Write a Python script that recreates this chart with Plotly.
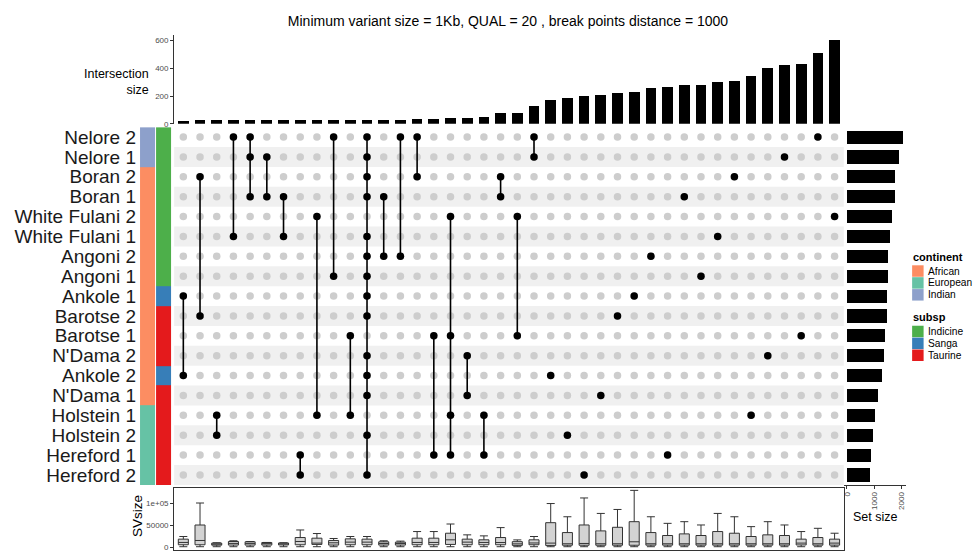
import plotly.graph_objects as go

# ---------------- data ----------------
set_names = ["Nelore 2", "Nelore 1", "Boran 2", "Boran 1", "White Fulani 2", "White Fulani 1",
             "Angoni 2", "Angoni 1", "Ankole 1", "Barotse 2", "Barotse 1", "N'Dama 2",
             "Ankole 2", "N'Dama 1", "Holstein 1", "Holstein 2", "Hereford 1", "Hereford 2"]
set_sizes = [2058, 1913, 1768, 1745, 1636, 1585, 1503, 1495, 1455, 1450, 1370, 1333,
             1260, 1127, 1006, 958, 873, 824]
set_continent = ["Indian", "Indian", "African", "African", "African", "African", "African", "African",
                 "African", "African", "African", "African", "African", "African",
                 "European", "European", "European", "European"]
set_subsp = ["Indicine", "Indicine", "Indicine", "Indicine", "Indicine", "Indicine", "Indicine", "Indicine",
             "Sanga", "Taurine", "Taurine", "Taurine", "Sanga", "Taurine",
             "Taurine", "Taurine", "Taurine", "Taurine"]

continent_levels = ["African", "European", "Indian"]
continent_colors = ["#FC8D62", "#66C2A5", "#8DA0CB"]
subsp_levels = ["Indicine", "Sanga", "Taurine"]
subsp_colors = ["#4DAF4A", "#377EB8", "#E41A1C"]

intersections = [
    ["Ankole 1", "Ankole 2"],
    ["Boran 2", "Barotse 2"],
    ["Holstein 1", "Holstein 2"],
    ["Nelore 2", "White Fulani 1"],
    ["Nelore 2", "Nelore 1", "Boran 1"],
    ["Nelore 1", "Boran 1"],
    ["Boran 1", "White Fulani 1"],
    ["Hereford 1", "Hereford 2"],
    ["White Fulani 2", "Holstein 1"],
    ["Nelore 2", "Angoni 1"],
    ["Barotse 1", "Holstein 1"],
    ["Nelore 2", "Nelore 1", "Boran 2", "Boran 1", "White Fulani 1", "Angoni 2", "Angoni 1",
     "Ankole 1", "Barotse 2", "N'Dama 2", "Ankole 2", "N'Dama 1", "Holstein 2", "Hereford 2"],
    ["Boran 1", "Angoni 2"],
    ["Nelore 2", "Angoni 2"],
    ["Nelore 2", "Boran 2"],
    ["Barotse 1", "Hereford 1"],
    ["White Fulani 2", "Barotse 1", "Holstein 1", "Hereford 1"],
    ["N'Dama 2", "N'Dama 1"],
    ["Holstein 1", "Hereford 1"],
    ["Boran 2", "Boran 1"],
    ["White Fulani 2", "Barotse 1"],
    ["Nelore 2", "Nelore 1"],
    ["Ankole 2"], ["Holstein 2"], ["Hereford 2"], ["N'Dama 1"], ["Barotse 2"], ["Ankole 1"],
    ["Angoni 2"], ["Hereford 1"], ["Boran 1"], ["Angoni 1"], ["White Fulani 1"], ["Boran 2"],
    ["Holstein 1"], ["N'Dama 2"], ["Nelore 1"], ["Barotse 1"], ["Nelore 2"], ["White Fulani 2"],
]
intersection_sizes = [24, 25, 25, 26, 26, 27, 27, 28, 28, 29, 29, 30, 30, 31, 32, 34,
                      40, 41, 47, 78, 78, 126, 171, 185, 197, 204, 225, 232, 254, 266,
                      282, 282, 304, 311, 346, 399, 422, 427, 508, 605]

sv_upper = [24700, 101000, 10500, 15000, 13400, 11200, 10400, 39600, 31500, 20200,
            24700, 24700, 15000, 14200, 36000, 36000, 53200, 28500, 26200, 45000,
            17000, 24700, 99800, 69700, 112500, 77300, 86300, 129800, 69700, 54700,
            58500, 51000, 77300, 69700, 47200, 58500, 51000, 36000, 43400, 32200]
sv_q3 = [18700, 50900, 9700, 13400, 12700, 11000, 10000, 22400, 20900, 15700,
         19400, 18700, 12700, 11900, 20900, 20900, 32200, 18700, 17200, 22400,
         13000, 17200, 56200, 33700, 51000, 37500, 45700, 58500, 33700, 27000,
         30700, 27000, 36000, 32200, 24700, 28500, 27000, 18700, 22400, 18700]
sv_median = [11200, 15700, 7000, 9000, 9000, 8500, 8000, 13400, 9700, 10400,
             11900, 11900, 8900, 8900, 11200, 11200, 17200, 11900, 11200, 11000,
             8000, 10000, 9700, 8200, 8900, 8200, 8200, 12700, 8200, 8200,
             8200, 8200, 8200, 8200, 8200, 8200, 8200, 9700, 8200, 9700]
sv_q1 = [5900, 5900, 5000, 5200, 5200, 5200, 5500, 5900, 6700, 5200,
         5900, 5900, 5200, 5200, 5900, 5900, 6700, 5900, 5900, 5900,
         4500, 5900, 4400, 4800, 4800, 4800, 4800, 4800, 5000, 5000,
         5000, 5000, 5000, 5000, 5000, 5000, 5000, 5500, 5000, 5000]
sv_lower = [1500] * 40

title_text = "Minimum variant size = 1Kb, QUAL = 20 , break points distance = 1000"

# ---------------- helpers ----------------
W, H = 973, 555
def fx(p):
    return p / W
def fy(p):
    return 1 - p / H

FONT = "Liberation Sans, Arial, sans-serif"
n_sets = len(set_names)
n_cols = len(intersections)
rows = list(range(n_sets))
cols = list(range(n_cols))
row_of = {s: i for i, s in enumerate(set_names)}

fig = go.Figure()

# top bars
fig.add_trace(go.Bar(x=cols, y=intersection_sizes, xaxis="x", yaxis="y",
                     marker=dict(color="black", line=dict(width=0)), width=0.64,
                     hoverinfo="skip"))

# matrix: grey dots
gx, gy = [], []
for c in cols:
    for r in rows:
        gx.append(c)
        gy.append(r)
fig.add_trace(go.Scatter(x=gx, y=gy, mode="markers", xaxis="x2", yaxis="y2",
                         marker=dict(color="#CDCDCD", size=7.5), hoverinfo="skip"))
# lines
lx, ly = [], []
for c, members in enumerate(intersections):
    rr = [row_of[m] for m in members]
    if len(rr) > 1:
        lx += [c, c, None]
        ly += [min(rr), max(rr), None]
fig.add_trace(go.Scatter(x=lx, y=ly, mode="lines", xaxis="x2", yaxis="y2",
                         line=dict(color="black", width=1.6), hoverinfo="skip"))
# black dots
bx, by = [], []
for c, members in enumerate(intersections):
    for m in members:
        bx.append(c)
        by.append(row_of[m])
fig.add_trace(go.Scatter(x=bx, y=by, mode="markers", xaxis="x2", yaxis="y2",
                         marker=dict(color="black", size=7.5), hoverinfo="skip"))

# boxplots
fig.add_trace(go.Box(x=cols, q1=sv_q1, median=sv_median, q3=sv_q3,
                     lowerfence=sv_lower, upperfence=sv_upper,
                     xaxis="x3", yaxis="y3", boxpoints=False, width=0.6, whiskerwidth=0.8,
                     fillcolor="#D3D3D3", line=dict(color="#333333", width=1),
                     hoverinfo="skip"))

# strips
codes = []
for r in rows:
    codes.append([continent_levels.index(set_continent[r]),
                  3 + subsp_levels.index(set_subsp[r])])
all_colors = continent_colors + subsp_colors
cs = []
for i, col in enumerate(all_colors):
    cs.append([i / 6, col])
    cs.append([(i + 1) / 6, col])
fig.add_trace(go.Heatmap(z=codes, x=[0, 1], y=rows, xaxis="x4", yaxis="y2",
                         colorscale=cs, zmin=-0.5, zmax=5.5, showscale=False,
                         xgap=1, hoverinfo="skip"))

# set sizes
fig.add_trace(go.Bar(x=set_sizes, y=rows, orientation="h", xaxis="x5", yaxis="y2",
                     marker=dict(color="black", line=dict(width=0)), width=0.66,
                     hoverinfo="skip"))

# ---------------- layout ----------------
main_dom = [fx(172.5), fx(843.5)]
xr = [-0.55, n_cols - 1 + 0.55]
tickfont = dict(family=FONT, size=8, color="#4D4D4D")

shapes = []
for r in rows:
    if r % 2 == 1:
        shapes.append(dict(type="rect", xref="x2 domain", yref="y2", x0=0, x1=1,
                           y0=r - 0.5, y1=r + 0.5, fillcolor="#F0F0F0",
                           line=dict(width=0), layer="below"))

annotations = [
    dict(text="Intersection<br>size", x=fx(149.5), y=fy(83), xref="paper", yref="paper",
         xanchor="right", yanchor="middle", align="right", showarrow=False,
         font=dict(family=FONT, size=12.5, color="black")),
    dict(text="SVsize", x=fx(136), y=fy(521), xref="paper", yref="paper",
         xanchor="center", yanchor="middle", textangle=-90, showarrow=False,
         font=dict(family=FONT, size=13.5, color="black")),
    dict(text="Set size", x=fx(875.5), y=fy(522), xref="paper", yref="paper",
         xanchor="center", yanchor="middle", showarrow=False,
         font=dict(family=FONT, size=12.5, color="black")),
]

# manual legend
legend_groups = [("continent", continent_levels, continent_colors, 259),
                 ("subsp", subsp_levels, subsp_colors, 320)]
for title, levels, colors, ty in legend_groups:
    annotations.append(dict(text="<b>%s</b>" % title, x=fx(911), y=fy(ty), xref="paper",
                            yref="paper", xanchor="left", yanchor="middle", showarrow=False,
                            font=dict(family=FONT, size=11, color="black")))
    for i, (lv, colr) in enumerate(zip(levels, colors)):
        cy = ty + 14.5 + i * 12
        shapes.append(dict(type="rect", xref="paper", yref="paper",
                           x0=fx(912), x1=fx(923.5), y0=fy(cy - 5.8), y1=fy(cy + 5.8),
                           fillcolor=colr, line=dict(width=0)))
        annotations.append(dict(text=lv, x=fx(925.5), y=fy(cy), xref="paper", yref="paper",
                                xanchor="left", yanchor="middle", showarrow=False,
                                font=dict(family=FONT, size=10.2, color="black")))

fig.update_layout(
    width=W, height=H, margin=dict(l=0, r=0, t=0, b=0),
    paper_bgcolor="white", plot_bgcolor="white", showlegend=False,
    bargap=0,
    title=dict(text=title_text, x=fx(508), y=fy(21), xanchor="center", yanchor="middle",
               font=dict(family=FONT, size=14, color="black")),
    xaxis=dict(domain=main_dom, range=xr, anchor="y", visible=False),
    xaxis2=dict(domain=main_dom, range=xr, anchor="y2", matches="x", visible=False),
    xaxis3=dict(domain=main_dom, range=xr, anchor="y3", matches="x", showticklabels=False,
                ticks="", showline=True, mirror=True, linecolor="#333333", linewidth=1,
                showgrid=False, zeroline=False),
    xaxis4=dict(domain=[fx(138.3), fx(170.7)], range=[-0.5, 1.5], anchor="y2", visible=False),
    xaxis5=dict(domain=[fx(843.9), fx(906.1)], range=[-103, 2161], anchor="y2", side="bottom",
                showline=True, linecolor="#333333", linewidth=1, ticks="outside", ticklen=3,
                tickcolor="#333333", tickvals=[0, 1000, 2000], tickangle=-90,
                tickfont=tickfont, showgrid=False, zeroline=False),
    yaxis=dict(domain=[fy(125), fy(35)], range=[0, 640], anchor="x", showline=True,
               linecolor="#333333", linewidth=1, ticks="outside", ticklen=3,
               tickcolor="#333333", tickvals=[0, 200, 400, 600], tickfont=tickfont,
               showgrid=False, zeroline=False),
    yaxis2=dict(domain=[fy(489.3), fy(128.3)], range=[n_sets - 0.5, -0.5], anchor="x4",
                tickvals=rows, ticktext=set_names, ticks="", showgrid=False, zeroline=False,
                ticklabelstandoff=3,
                tickfont=dict(family=FONT, size=19, color="#1A1A1A")),
    yaxis3=dict(domain=[0, fy(492.3)], range=[-6000, 135500], anchor="x3", showline=True,
                mirror=True, linecolor="#333333", linewidth=1, ticks="outside", ticklen=3,
                tickcolor="#333333", tickvals=[0, 50000, 100000],
                ticktext=["0", "50000", "1e+05"], tickfont=tickfont,
                showgrid=False, zeroline=False),
    shapes=shapes, annotations=annotations,
)

fig.write_html("out.html", config={"displayModeBar": False, "staticPlot": True},
               post_script="document.body.style.margin='0px';document.body.style.padding='0px';")
